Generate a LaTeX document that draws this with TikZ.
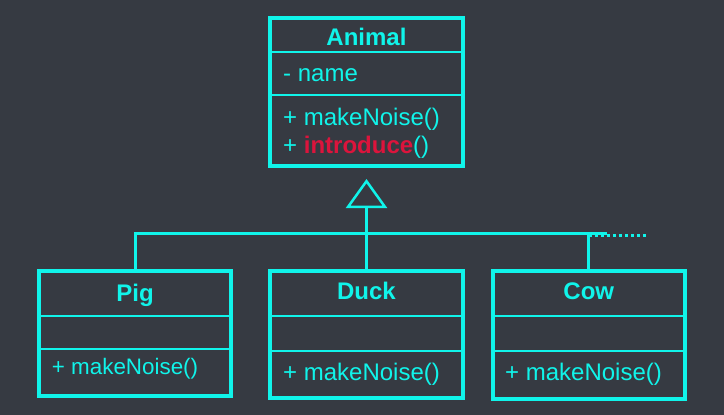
\documentclass[tikz,border=0pt]{standalone}
\usepackage{fontspec}
\setmainfont{Liberation Sans}
\usetikzlibrary{arrows.meta, positioning}
\definecolor{cbg}{HTML}{363A42}
\definecolor{ccyan}{HTML}{10F4EA}
\definecolor{cred}{HTML}{DC143C}
\tikzset{
  every picture/.style={x=1pt, y=-1pt},
  classbox/.style={draw=ccyan, line width=4pt, inner sep=0pt, minimum width=193pt},
  divider/.style={draw=ccyan, line width=2pt},
  cname/.style={anchor=base, inner sep=0pt, text=ccyan, font=\fontsize{24}{28}\selectfont\bfseries},
  member/.style={anchor=base west, inner sep=0pt, text=ccyan, font=\fontsize{24}{28}\selectfont},
  link/.style={draw=ccyan, line width=3pt},
  inherit/.style={link, -{Triangle[open, length=29pt, width=41pt, line width=2.5pt]}, shorten >=11pt},
}
\begin{document}
\begin{tikzpicture}
  \fill[cbg] (0,0) rectangle (724,415);
  \useasboundingbox (0,0) rectangle (724,415);

  \node[classbox, minimum height=148pt] (animal) at (366.5,92) {};
  \node[classbox, minimum width=192pt, minimum height=125pt] (pig) at (135,333.5) {};
  \node[classbox, minimum height=127pt] (duck) at (366.5,334.5) {};
  \node[classbox, minimum width=192pt, minimum height=128pt] (cow) at (588.8,334.8) {};

  \draw[divider] (animal.west |- 0,51.7) -- (animal.east |- 0,51.7);
  \draw[divider] (animal.west |- 0,95) -- (animal.east |- 0,95);
  \draw[divider] (pig.west |- 0,315.7) -- (pig.east |- 0,315.7);
  \draw[divider] (pig.west |- 0,349) -- (pig.east |- 0,349);
  \draw[divider] (duck.west |- 0,315.7) -- (duck.east |- 0,315.7);
  \draw[divider] (duck.west |- 0,351) -- (duck.east |- 0,351);
  \draw[divider] (cow.west |- 0,315.7) -- (cow.east |- 0,315.7);
  \draw[divider] (cow.west |- 0,351) -- (cow.east |- 0,351);

  \node[cname] (animalname) at (366.5,45.7) {Animal};
  \node[member] (animalattr) at (283,81) {- name};
  \node[member] (animalnoise) at (283,125) {+ makeNoise()};
  \node[member] (animalintro) at (283,153.3) {+ \textcolor{cred}{\bfseries introduce}()};

  \node[cname] (pigname) at (135,301.7) {Pig};
  \node[member, font=\fontsize{22.4}{26}\selectfont] (pignoise) at (51.7,374) {+ makeNoise()};
  \node[cname] (duckname) at (366.5,299.3) {Duck};
  \node[member] (ducknoise) at (283,380) {+ makeNoise()};
  \node[cname] (cowname) at (588.8,299.3) {Cow};
  \node[member] (cownoise) at (505,380) {+ makeNoise()};

  \coordinate (barend) at (607,233.3);
  \coordinate (more) at (647,235);
  \draw[link] (pig.north) |- (barend);
  \draw[link] (cow.north) -- (cow.north |- barend);
  \draw[link, dash pattern=on 3pt off 3pt] (cow.north |- more) -- (more);
  \draw[inherit] (duck.north) -- (animal.south);
\end{tikzpicture}
\end{document}
